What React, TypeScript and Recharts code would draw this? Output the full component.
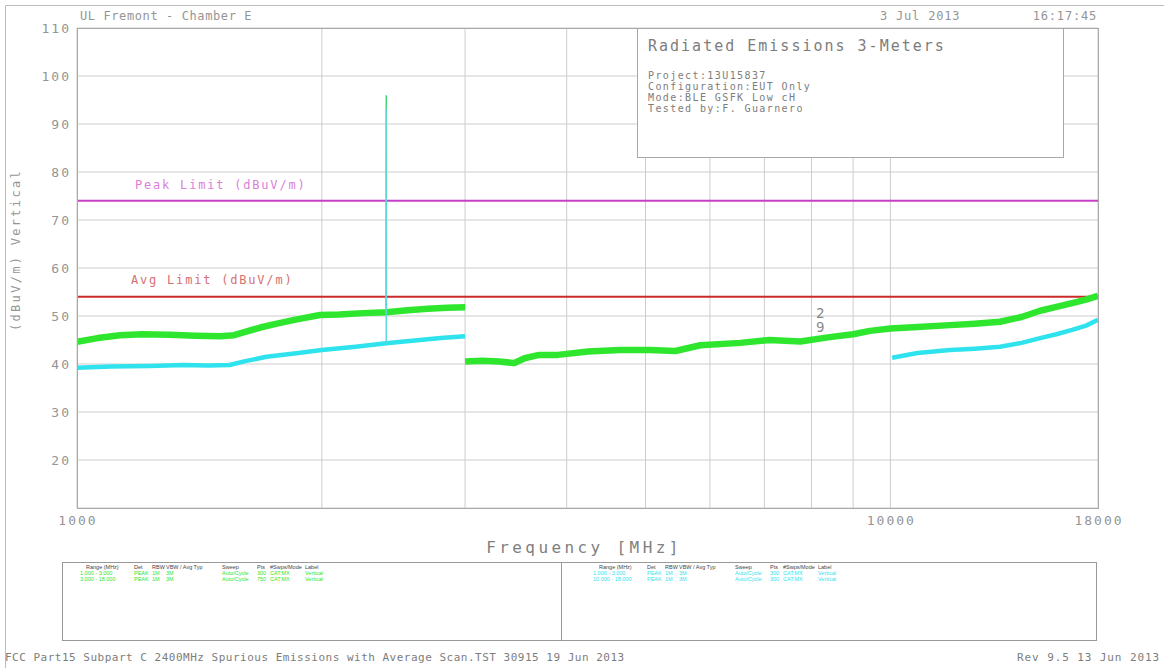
import { CartesianGrid, Line, LineChart, ReferenceDot, ReferenceLine, XAxis, YAxis } from "recharts";

// peak trace (green), 1-3 GHz and 3-18 GHz sweeps
const peakLowFreq = [1000, 1060, 1130, 1200, 1300, 1400, 1500, 1560, 1610, 1680, 1750, 1850, 1990, 2100, 2250, 2400, 2550, 2700, 2850, 3000];
const peakLowDb = [44.6, 45.4, 46, 46.2, 46.1, 45.9, 45.8, 46, 46.7, 47.6, 48.3, 49.2, 50.2, 50.3, 50.6, 50.8, 51.2, 51.5, 51.7, 51.8];
const peakHighFreq = [3000, 3150, 3300, 3450, 3550, 3700, 3900, 4250, 4650, 5060, 5440, 5840, 6540, 7100, 7750, 8420, 9000, 9440, 10000, 10800, 11840, 12700, 13640, 14500, 15280, 16000, 16730, 17400, 18000];
const peakHighDb = [40.5, 40.7, 40.5, 40.2, 41.2, 41.9, 41.9, 42.6, 42.9, 42.9, 42.7, 43.9, 44.4, 45, 44.7, 45.6, 46.2, 46.9, 47.4, 47.7, 48.1, 48.4, 48.8, 49.8, 51.1, 51.9, 52.7, 53.4, 54.2];

// average trace (cyan)
const avgLowFreq = [1000, 1100, 1230, 1350, 1450, 1540, 1610, 1710, 1850, 2000, 2200, 2400, 2600, 2800, 3000];
const avgLowDb = [39.2, 39.5, 39.6, 39.8, 39.7, 39.8, 40.6, 41.5, 42.2, 42.9, 43.6, 44.3, 44.9, 45.4, 45.8];
const avgHighFreq = [10050, 10800, 11840, 12700, 13640, 14500, 15280, 16000, 16730, 17400, 18000];
const avgHighDb = [41.3, 42.3, 42.9, 43.2, 43.6, 44.4, 45.4, 46.2, 47.1, 48, 49.2];

// carrier spike at 2400 MHz
const spikeFreq = [2399, 2400, 2401];
const spikePeakDb = [50.8, 96, 50.8];
const spikeAvgDb = [44.3, 93, 44.3];

const peakLimit = 74;
const avgLimit = 54;

const yTicks = [10, 20, 30, 40, 50, 60, 70, 80, 90, 100, 110];
const xTicks = [1000, 2000, 3000, 4000, 5000, 6000, 7000, 8000, 9000, 10000, 18000];
const xLabelled = [1000, 10000, 18000];

const markers = [
  { f: 8200, db: 50.6, label: "2" },
  { f: 8200, db: 47.6, label: "9" },
];

const infoLines = ["Project:13U15837", "Configuration:EUT Only", "Mode:BLE GSFK Low cH", "Tested by:F. Guarnero"];
const tableHeaders = ["Range (MHz)", "Det", "RBW", "VBW / Avg Typ", "Sweep", "Pts", "#Swps/Mode", "Label"];
const tableCols = [24, 72, 90, 104, 160, 195, 208, 243];
const peakRows = [
  ["1.000 - 3.000", "PEAK", "1M", "3M", "Auto/Cycle", "300", "CAT:MX", "Vertical"],
  ["3.000 - 18.000", "PEAK", "1M", "3M", "Auto/Cycle", "750", "CAT:MX", "Vertical"],
];
const avgRows = [
  ["1.000 - 3.000", "PEAK", "1M", "3M", "Auto/Cycle", "300", "CAT:MX", "Vertical"],
  ["10.000 - 18.000", "PEAK", "1M", "3M", "Auto/Cycle", "300", "CAT:MX", "Vertical"],
];

const toPoints = (freq: number[], db: number[]) => freq.map((f, i) => ({ f, v: db[i] }));

const mono = "'DejaVu Sans Mono', monospace";
const textGrey = "#959595";
const green = "#2ee62e";
const cyan = "#2fe3ee";

function YTick({ x, y, payload }: any) {
  if (payload.value === 10) return null;
  return (
    <text x={x + 2} y={y + 5} textAnchor="end" fill={textGrey} fontFamily={mono} fontSize={13} letterSpacing={2}>
      {payload.value}
    </text>
  );
}

function XTick({ x, y, payload }: any) {
  if (!xLabelled.includes(payload.value)) return null;
  return (
    <text x={x + 1} y={y + 9} textAnchor="middle" fill={textGrey} fontFamily={mono} fontSize={13} letterSpacing={2}>
      {payload.value}
    </text>
  );
}

function Table({ x, rows, color }: { x: number; rows: string[][]; color: string }) {
  return (
    <g>
      {tableHeaders.map((h, i) => (
        <text key={h} x={x + tableCols[i]} y={569} fontSize={5.5} fontFamily="'Liberation Sans Narrow', 'Liberation Sans', sans-serif" fill="#444">
          {h}
        </text>
      ))}
      {rows.map((r, ri) =>
        r.map((c, ci) => (
          <text key={ri + "-" + ci} x={x + tableCols[ci] + (ci === 0 ? -6 : 0)} y={575 + ri * 6} fontSize={5.5} fontFamily="'Liberation Sans Narrow', 'Liberation Sans', sans-serif" fill={color}>
            {c}
          </text>
        ))
      )}
    </g>
  );
}

export default function App() {
  return (
    <div style={{ position: "absolute", left: 0, top: 0, width: 1164, height: 668, background: "#fff", overflow: "hidden" }}>
      <LineChart width={1164} height={668} margin={{ top: 28, right: 66, bottom: 130, left: 17 }}>
        <CartesianGrid stroke="#cdcdcd" strokeWidth={1} />
        <XAxis
          dataKey="f"
          type="number"
          scale="log"
          domain={[1000, 18000]}
          ticks={xTicks}
          allowDataOverflow
          axisLine={false}
          tickLine={false}
          height={30}
          tick={<XTick />}
          interval={0}
        />
        <YAxis type="number" domain={[10, 110]} ticks={yTicks} axisLine={false} tickLine={false} width={60} tick={<YTick />} interval={0} />
        <ReferenceLine y={peakLimit} stroke="#c73ec7" strokeWidth={2} />
        <ReferenceLine y={avgLimit} stroke="#cc2a2a" strokeWidth={2} />
        <Line data={toPoints(peakLowFreq, peakLowDb)} dataKey="v" stroke={green} strokeWidth={6.5} dot={false} isAnimationActive={false} strokeLinejoin="round" />
        <Line data={toPoints(peakHighFreq, peakHighDb)} dataKey="v" stroke={green} strokeWidth={6.5} dot={false} isAnimationActive={false} strokeLinejoin="round" />
        <Line data={toPoints(spikeFreq, spikePeakDb)} dataKey="v" stroke="#45d87a" strokeWidth={1.5} dot={false} isAnimationActive={false} />
        <Line data={toPoints(avgLowFreq, avgLowDb)} dataKey="v" stroke={cyan} strokeWidth={4.5} dot={false} isAnimationActive={false} strokeLinejoin="round" />
        <Line data={toPoints(avgHighFreq, avgHighDb)} dataKey="v" stroke={cyan} strokeWidth={4.5} dot={false} isAnimationActive={false} strokeLinejoin="round" />
        <Line data={toPoints(spikeFreq, spikeAvgDb)} dataKey="v" stroke="#5fd8e0" strokeWidth={1.2} dot={false} isAnimationActive={false} />
        {markers.map((m) => (
          <ReferenceDot
            key={m.label}
            x={m.f}
            y={m.db}
            r={0}
            label={{ value: m.label, position: "center", fill: "#888", fontSize: 14, fontFamily: mono }}
          />
        ))}
      </LineChart>

      <svg width={1164} height={668} style={{ position: "absolute", left: 0, top: 0, pointerEvents: "none" }}>
        <line x1={5.5} y1={5.5} x2={1164} y2={5.5} stroke="#bdbdbd" />
        <line x1={5.5} y1={5.5} x2={5.5} y2={668} stroke="#bdbdbd" />
        <rect x={77.5} y={28.5} width={1021} height={480} fill="none" stroke="#a8a8a8" />

        <text x={80} y={20} fill={textGrey} fontFamily={mono} fontSize={12} letterSpacing={0.6}>
          UL Fremont - Chamber E
        </text>
        <text x={880} y={20} fill={textGrey} fontFamily={mono} fontSize={12} letterSpacing={0.8}>
          3 Jul 2013
        </text>
        <text x={1097} y={20} textAnchor="end" fill={textGrey} fontFamily={mono} fontSize={12} letterSpacing={0.8}>
          16:17:45
        </text>

        <rect x={637.5} y={28.5} width={426} height={129} fill="#fff" stroke="#a8a8a8" />
        <text x={648} y={51} fill="#7d7d7d" fontFamily={mono} fontSize={15} letterSpacing={2}>
          Radiated Emissions 3-Meters
        </text>
        {infoLines.map((t, i) => (
          <text key={t} x={648} y={79 + i * 11} fill="#7d7d7d" fontFamily={mono} fontSize={10} letterSpacing={1.4}>
            {t}
          </text>
        ))}

        <text x={135} y={189} fill="#da80da" fontFamily={mono} fontSize={12} letterSpacing={1.8}>
          Peak Limit (dBuV/m)
        </text>
        <text x={131} y={284} fill="#d67070" fontFamily={mono} fontSize={12} letterSpacing={1.8}>
          Avg Limit (dBuV/m)
        </text>

        <text x={20} y={250} transform="rotate(-90 20 250)" textAnchor="middle" fill={textGrey} fontFamily={mono} fontSize={12} letterSpacing={2.3}>
          (dBuV/m) Vertical
        </text>
        <text x={584} y={553} textAnchor="middle" fill="#808080" fontFamily={mono} fontSize={16} letterSpacing={3.4}>
          Frequency [MHz]
        </text>

        <rect x={62.5} y={562.5} width={1034} height={78} fill="none" stroke="#999" />
        <line x1={561.5} y1={562.5} x2={561.5} y2={640.5} stroke="#999" />
        <Table x={62} rows={peakRows} color={green} />
        <Table x={575} rows={avgRows} color={cyan} />

        <text x={5} y={661} fill="#7d7d7d" fontFamily={mono} fontSize={11} letterSpacing={0.5}>
          FCC Part15 Subpart C 2400MHz Spurious Emissions with Average Scan.TST 30915 19 Jun 2013
        </text>
        <text x={1160} y={661} textAnchor="end" fill="#7d7d7d" fontFamily={mono} fontSize={11} letterSpacing={0.9}>
          Rev 9.5 13 Jun 2013
        </text>
      </svg>
    </div>
  );
}
